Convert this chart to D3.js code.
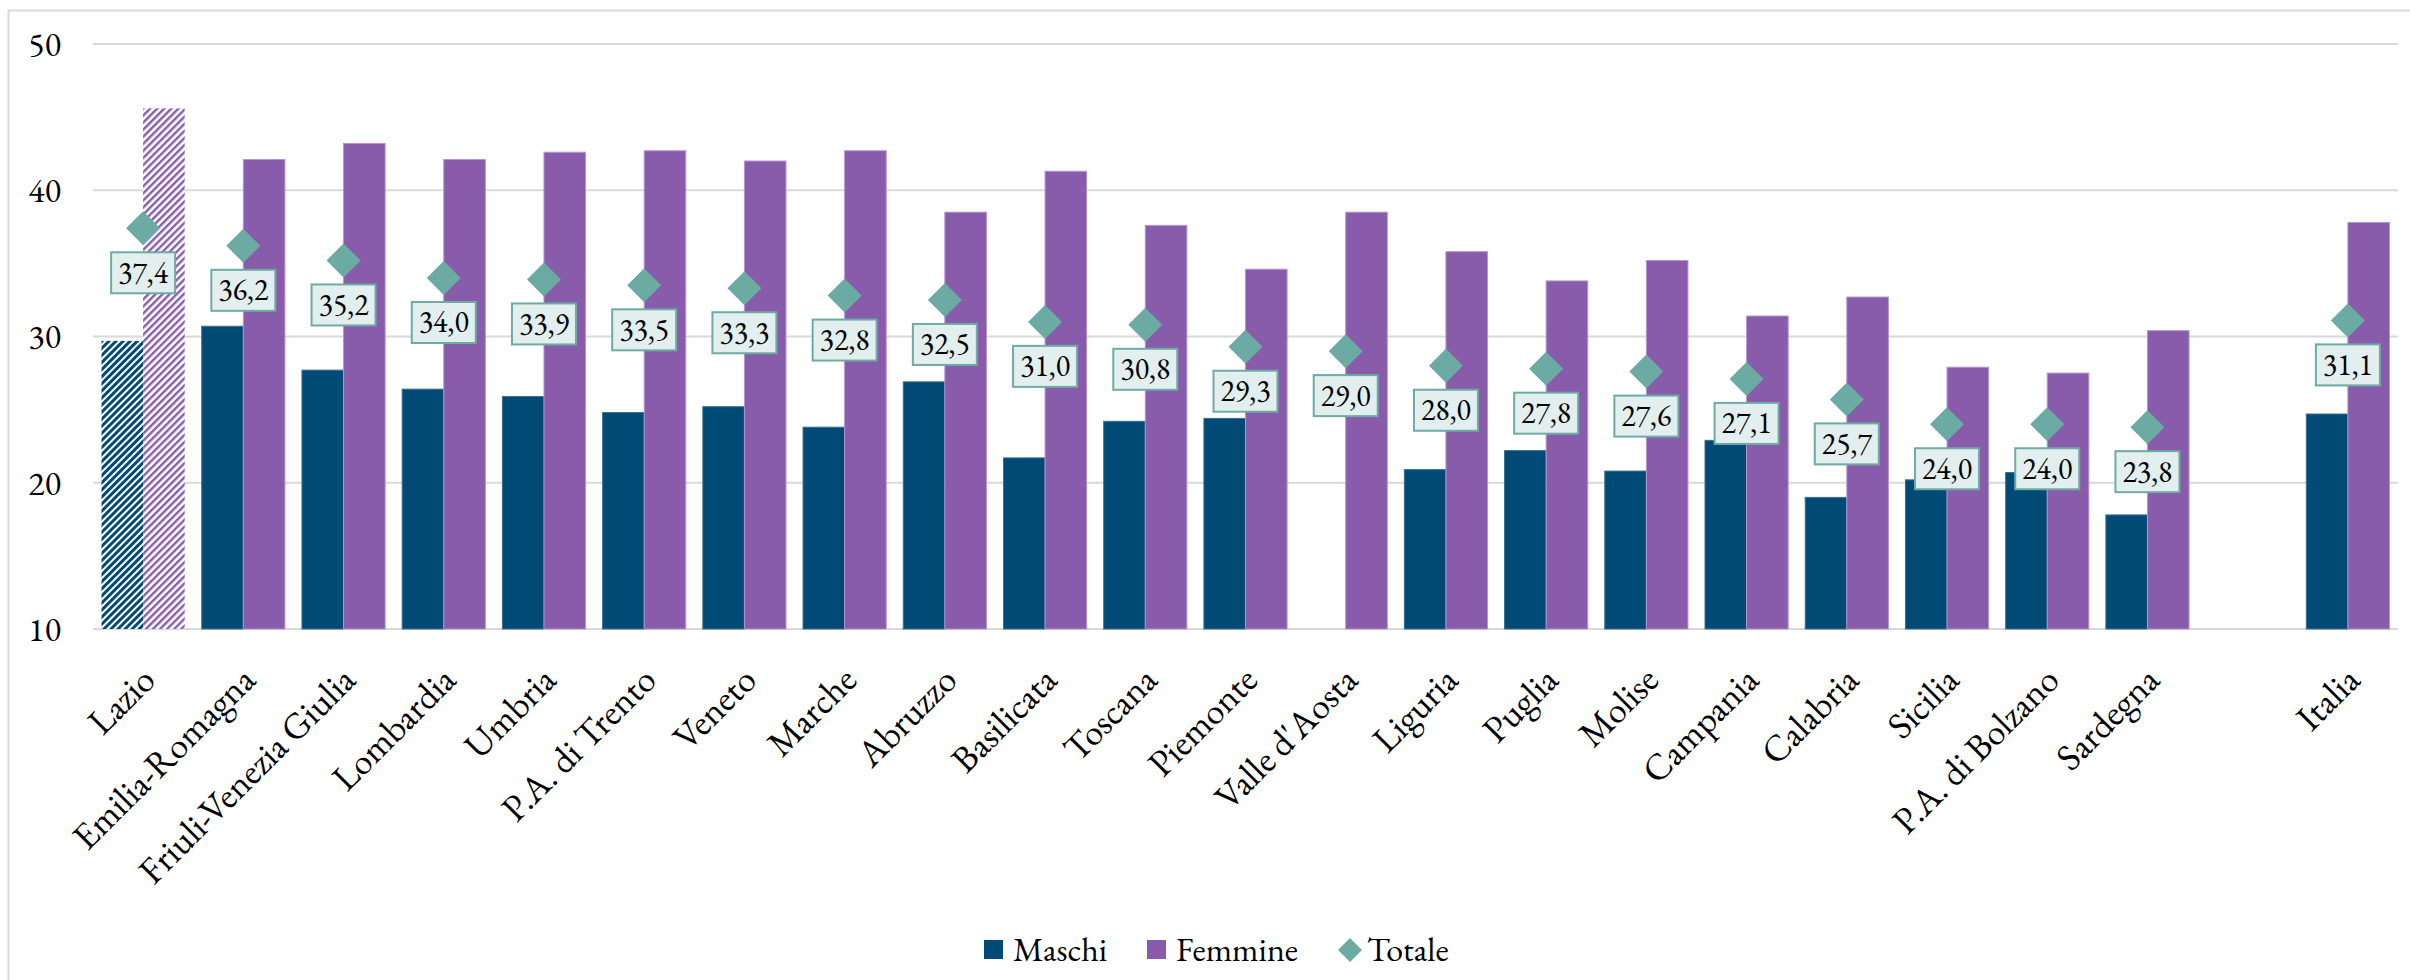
<!DOCTYPE html>
<html>
<head>
  <meta charset="utf-8">
  <title>Maschi Femmine Totale per regione</title>
  <script src="https://cdnjs.cloudflare.com/ajax/libs/d3/7.8.5/d3.min.js"></script>
<style>
body{
  margin: 0;
  background: white;
}
text{
  font-family: Garamond, "EB Garamond", "Liberation Serif", "DejaVu Serif", serif;
  fill: black;
}
.grid line{
  stroke: #d9d9d9;
  stroke-width: 2;
}
.tick-y{
  font-size: 34px;
}
.tick-x{
  font-size: 37px;
}
.lbl{
  font-size: 30px;
}
.legend text{
  font-size: 34px;
}
</style>
</head>
<body>
<div id="chart"></div>
<script>
// dati (un posto vuoto prima di Italia)
var categories = ["Lazio", "Emilia-Romagna", "Friuli-Venezia Giulia", "Lombardia", "Umbria",
  "P.A. di Trento", "Veneto", "Marche", "Abruzzo", "Basilicata", "Toscana", "Piemonte",
  "Valle d'Aosta", "Liguria", "Puglia", "Molise", "Campania", "Calabria", "Sicilia",
  "P.A. di Bolzano", "Sardegna", "", "Italia"];
var maschi  = [29.7, 30.7, 27.7, 26.4, 25.9, 24.8, 25.2, 23.8, 26.9, 21.7, 24.2, 24.4,
  null, 20.9, 22.2, 20.8, 22.9, 19.0, 20.2, 20.7, 17.8, null, 24.7];
var femmine = [45.6, 42.1, 43.2, 42.1, 42.6, 42.7, 42.0, 42.7, 38.5, 41.3, 37.6, 34.6,
  38.5, 35.8, 33.8, 35.2, 31.4, 32.7, 27.9, 27.5, 30.4, null, 37.8];
var totale  = [37.4, 36.2, 35.2, 34.0, 33.9, 33.5, 33.3, 32.8, 32.5, 31.0, 30.8, 29.3,
  29.0, 28.0, 27.8, 27.6, 27.1, 25.7, 24.0, 24.0, 23.8, null, 31.1];
var yTicks = [10, 20, 30, 40, 50];
var hatched = ["Lazio"];

var series = ["Maschi", "Femmine"];
var colors = {Maschi: "#014a76", Femmine: "#895bab", Totale: "#6caaa4"};
var edge = {Maschi: "#3d6f92", Femmine: "#b595cf"};

var W = 2410, H = 980;
var svg = d3.select("#chart").append("svg")
  .attr("width", W)
  .attr("height", H);

// hatch patterns for Lazio
var defs = svg.append("defs");
series.forEach(function (s) {
  var p = defs.append("pattern")
    .attr("id", "hatch-" + s)
    .attr("patternUnits", "userSpaceOnUse")
    .attr("width", 5).attr("height", 5)
    .attr("patternTransform", "rotate(45)");
  p.append("rect").attr("width", 5).attr("height", 5).attr("fill", "white");
  p.append("rect").attr("width", s == "Maschi" ? 3 : 2.4).attr("height", 5).attr("fill", colors[s]);
});

// chart frame
svg.append("rect")
  .attr("x", 8.5).attr("y", 10.5)
  .attr("width", W + 20).attr("height", H + 20)
  .attr("fill", "none")
  .attr("stroke", "#d9d9d9")
  .attr("stroke-width", 2);

var slots = categories.map((c, i) => i);

var x0 = d3.scaleBand()
  .domain(slots)
  .range([93, 2398])
  .paddingInner(0.17)
  .paddingOuter(0.085);

var x1 = d3.scaleBand()
  .domain(series)
  .range([0, x0.bandwidth()]);

var y = d3.scaleLinear()
  .domain([10, 50])
  .range([629, 44]);

// gridlines
svg.append("g")
  .attr("class", "grid")
  .selectAll("line")
  .data(yTicks)
  .enter().append("line")
  .attr("x1", 93).attr("x2", 2398)
  .attr("y1", d => y(d)).attr("y2", d => y(d));

// y axis labels
svg.append("g")
  .selectAll("text")
  .data(yTicks)
  .enter().append("text")
  .attr("class", "tick-y")
  .attr("x", 61)
  .attr("y", d => y(d))
  .attr("dy", "0.35em")
  .attr("text-anchor", "end")
  .text(d => d);

// bars
var rows = slots.map(i => ({i: i, cat: categories[i], Maschi: maschi[i], Femmine: femmine[i]}));

var groups = svg.append("g")
  .selectAll("g")
  .data(rows)
  .enter().append("g")
  .attr("transform", d => "translate(" + x0(d.i) + ",0)");

groups.selectAll("rect")
  .data(d => series.map(s => ({s: s, v: d[s], cat: d.cat})).filter(b => b.v != null))
  .enter().append("rect")
  .attr("x", b => x1(b.s))
  .attr("y", b => y(b.v))
  .attr("width", x1.bandwidth())
  .attr("height", b => y(10) - y(b.v))
  .attr("fill", b => hatched.includes(b.cat) ? "url(#hatch-" + b.s + ")" : colors[b.s])
  .attr("stroke", b => hatched.includes(b.cat) ? "none" : edge[b.s])
  .attr("stroke-width", 1);

// x axis labels
svg.append("g")
  .selectAll("text")
  .data(rows.filter(d => d.cat != ""))
  .enter().append("text")
  .attr("class", "tick-x")
  .attr("text-anchor", "end")
  .attr("transform", d => "translate(" + (x0(d.i) + x0.bandwidth() / 2 + 14) + ",682) rotate(-45)")
  .text(d => d.cat);

// totale: diamonds + boxed labels
var tot = slots.filter(i => totale[i] != null).map(i => ({i: i, v: totale[i]}));
var cx = d => x0(d.i) + x0.bandwidth() / 2;
var fmt = v => d3.format(".1f")(v).replace(".", ",");

svg.append("g")
  .selectAll("path")
  .data(tot)
  .enter().append("path")
  .attr("d", "M0,-17L17,0L0,17L-17,0Z")
  .attr("fill", colors.Totale)
  .attr("transform", d => "translate(" + cx(d) + "," + y(d.v) + ")");

var labels = svg.append("g")
  .selectAll("g")
  .data(tot)
  .enter().append("g")
  .attr("transform", d => "translate(" + cx(d) + "," + (y(d.v) + 44.5) + ")");

labels.append("rect")
  .attr("x", -32).attr("y", -20.5)
  .attr("width", 64).attr("height", 41)
  .attr("fill", "#e3eeee")
  .attr("stroke", "#6eaba5")
  .attr("stroke-width", 2);

labels.append("text")
  .attr("class", "lbl")
  .attr("text-anchor", "middle")
  .attr("dy", "0.33em")
  .text(d => fmt(d.v));

// legend
var legend = svg.append("g").attr("class", "legend");
var items = [
  {name: "Maschi", x: 984, shape: "square"},
  {name: "Femmine", x: 1147, shape: "square"},
  {name: "Totale", x: 1338, shape: "diamond"}
];
items.forEach(function (it) {
  if (it.shape == "square") {
    legend.append("rect")
      .attr("x", it.x).attr("y", 940)
      .attr("width", 19).attr("height", 19)
      .attr("fill", colors[it.name]);
  } else {
    legend.append("path")
      .attr("d", "M0,-12L12,0L0,12L-12,0Z")
      .attr("fill", colors.Totale)
      .attr("transform", "translate(" + (it.x + 12) + ",950)");
  }
  legend.append("text")
    .attr("x", it.x + 29)
    .attr("y", 961)
    .text(it.name);
});
</script>
</body>
</html>
